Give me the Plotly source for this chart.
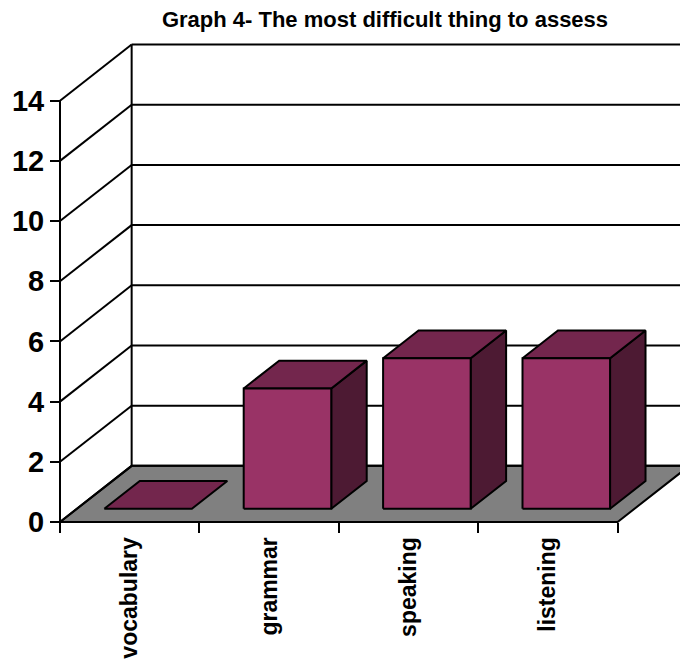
import plotly.graph_objects as go

# ---- data ----
categories = ["vocabulary", "grammar", "speaking", "listening"]
values = [0, 4, 5, 5]
y_tick_vals = [0, 2, 4, 6, 8, 10, 12, 14]
y_tick_text = [str(v) for v in y_tick_vals]
title_text = "Graph 4- The most difficult thing to assess"

# ---- styling / 3D geometry (in axis units) ----
FONT = "Arial, Liberation Sans, sans-serif"
DEPTH_X = 0.514      # depth shift of the floor, category units
DEPTH_Y = 1.865      # depth shift of the floor, value units
BAR_FRONT = 0.235    # bar front as fraction of depth
BAR_BACK = 0.73      # bar back as fraction of depth
BAR_OFFSET = 0.197   # gap inside category before bar
BAR_WIDTH = 0.628
C_FRONT = "#993366"
C_TOP = "#73264D"
C_SIDE = "#4D1A33"
C_FLOOR = "#808080"
LW = 2

X_RANGE = [-0.0287, 4.4476]
Y_RANGE = [-0.1, 15.95]

fig = go.Figure()

def poly(xs, ys, fill):
    xs = list(xs) + [xs[0]]
    ys = list(ys) + [ys[0]]
    fig.add_trace(go.Scatter(x=xs, y=ys, mode="lines", fill="toself",
                             fillcolor=fill, line=dict(color="black", width=LW),
                             hoverinfo="skip", showlegend=False))

def line(xs, ys, w=LW):
    fig.add_trace(go.Scatter(x=xs, y=ys, mode="lines",
                             line=dict(color="black", width=w),
                             hoverinfo="skip", showlegend=False))

n = len(categories)
top_val = y_tick_vals[-1]

# floor
poly([0, n, n + DEPTH_X, DEPTH_X], [0, 0, DEPTH_Y, DEPTH_Y], C_FLOOR)

# walls: back-wall gridlines and side-wall diagonals
for v in y_tick_vals:
    line([DEPTH_X, n + DEPTH_X], [v + DEPTH_Y, v + DEPTH_Y])
    line([0, DEPTH_X], [v, v + DEPTH_Y])
line([DEPTH_X, DEPTH_X], [DEPTH_Y, top_val + DEPTH_Y])
line([0, 0], [0, top_val])

# bars
dxb = (BAR_BACK - BAR_FRONT) * DEPTH_X
dyb = (BAR_BACK - BAR_FRONT) * DEPTH_Y
for i, v in enumerate(values):
    xl = i + BAR_FRONT * DEPTH_X + BAR_OFFSET
    xr = xl + BAR_WIDTH
    yb = BAR_FRONT * DEPTH_Y
    yt = yb + v
    if v > 0:
        poly([xr, xr + dxb, xr + dxb, xr], [yb, yb + dyb, yt + dyb, yt], C_SIDE)
    poly([xl, xr, xr + dxb, xl + dxb], [yt, yt, yt + dyb, yt + dyb], C_TOP)
    if v > 0:
        poly([xl, xr, xr, xl], [yb, yb, yt, yt], C_FRONT)

W, H = 680, 659
L, R, T, B = 56, 0, 42, 131

fig.update_layout(
    width=W, height=H,
    margin=dict(l=L, r=R, t=T, b=B, pad=0),
    paper_bgcolor="white", plot_bgcolor="white",
    showlegend=False, hovermode=False,
    title=dict(text=title_text, x=385 / W, xref="container", xanchor="center",
               y=1 - 19 / H, yref="container", yanchor="middle",
               font=dict(family=FONT, size=22, color="black", weight="bold")),
    xaxis=dict(range=X_RANGE, showgrid=False, zeroline=False, showline=False,
               tickmode="array",
               tickvals=[i + 0.5 for i in range(n)], ticktext=categories,
               tickangle=-90, ticks="outside", ticklen=5, tickwidth=2,
               tickcolor="rgba(0,0,0,0)",
               tickfont=dict(family=FONT, size=23, color="black", weight="bold"),
               minor=dict(tickmode="array", tickvals=list(range(n + 1)),
                          ticks="outside", ticklen=10, tickwidth=2,
                          tickcolor="black", showgrid=False),
               anchor="free",
               position=(0 - Y_RANGE[0]) / (Y_RANGE[1] - Y_RANGE[0]),
               fixedrange=True),
    yaxis=dict(range=Y_RANGE, showgrid=False, zeroline=False, showline=False,
               tickmode="array", tickvals=y_tick_vals, ticktext=y_tick_text,
               ticks="outside", ticklen=10, tickwidth=2, tickcolor="black",
               tickfont=dict(family=FONT, size=29, color="black", weight="bold"),
               anchor="free",
               position=(0 - X_RANGE[0]) / (X_RANGE[1] - X_RANGE[0]),
               fixedrange=True),
)

fig.write_html("out.html")
